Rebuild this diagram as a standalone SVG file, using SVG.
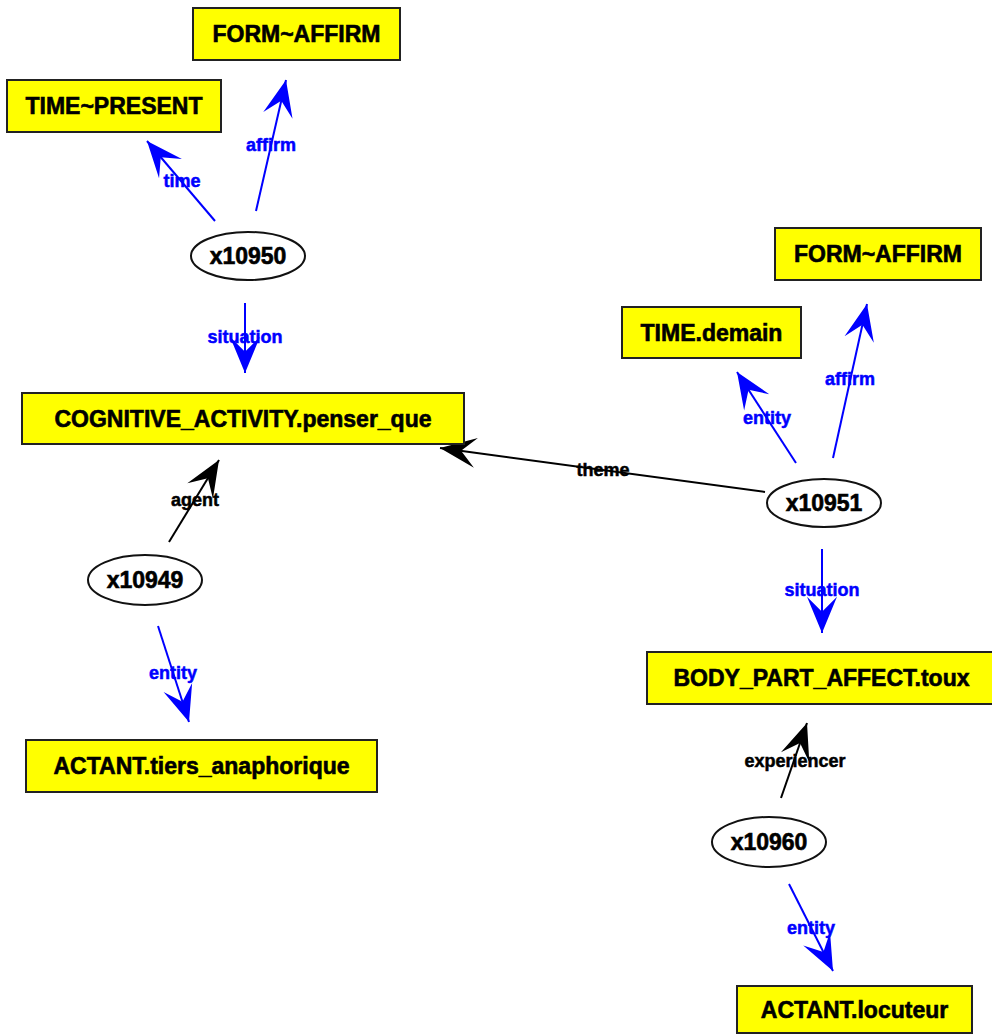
<svg xmlns="http://www.w3.org/2000/svg" width="992" height="1034" viewBox="0 0 992 1034">
<style>
.box{fill:#ffff00;stroke:#222;stroke-width:2}
.ell{fill:#fff;stroke:#111;stroke-width:2}
.nt{font-family:"Liberation Sans",Arial,sans-serif;font-weight:bold;font-size:23px;fill:#000;stroke:#000;stroke-width:0.6;text-anchor:middle;dominant-baseline:central}
.el{font-family:"Liberation Sans",Arial,sans-serif;font-weight:bold;font-size:18px;stroke-width:0.5;text-anchor:middle;dominant-baseline:central}
.blue{stroke:#0000ff;stroke-width:2;fill:none}
.black{stroke:#000;stroke-width:2;fill:none}
.bt{fill:#0000ff;stroke:#0000ff}
.kt{fill:#000;stroke:#000}
</style>
<defs>
<marker id="ab" markerUnits="userSpaceOnUse" orient="auto" markerWidth="40" markerHeight="40" refX="0" refY="0" viewBox="-30 -15 32 30" overflow="visible">
<path d="M0,0 L-29,-12 L-17,0 L-29,12 Z" fill="#0000ff"/>
</marker>
<marker id="ak" markerUnits="userSpaceOnUse" orient="auto" markerWidth="40" markerHeight="40" refX="0" refY="0" viewBox="-30 -15 32 30" overflow="visible">
<path d="M0,0 L-29,-12 L-17,0 L-29,12 Z" fill="#000"/>
</marker>
</defs>
<g id="connectors">
<line class="blue" x1="215" y1="221" x2="147" y2="141" marker-end="url(#ab)"/>
<line class="blue" x1="256" y1="211" x2="286" y2="80" marker-end="url(#ab)"/>
<line class="blue" x1="245" y1="303" x2="245" y2="373" marker-end="url(#ab)"/>
<line class="black" x1="169" y1="542" x2="219" y2="460" marker-end="url(#ak)"/>
<line class="blue" x1="158" y1="626" x2="189" y2="722" marker-end="url(#ab)"/>
<line class="black" x1="765" y1="492" x2="440" y2="448" marker-end="url(#ak)"/>
<line class="blue" x1="796" y1="463" x2="737" y2="372" marker-end="url(#ab)"/>
<line class="blue" x1="833" y1="458" x2="867" y2="304" marker-end="url(#ab)"/>
<line class="blue" x1="822" y1="549" x2="822" y2="633" marker-end="url(#ab)"/>
<line class="black" x1="781" y1="798" x2="807" y2="723" marker-end="url(#ak)"/>
<line class="blue" x1="789" y1="884" x2="833" y2="971" marker-end="url(#ab)"/>
<text class="el bt" x="182" y="181">time</text>
<text class="el bt" x="271" y="145">affirm</text>
<text class="el bt" x="245" y="337">situation</text>
<text class="el kt" x="195" y="500">agent</text>
<text class="el bt" x="173" y="673">entity</text>
<text class="el kt" x="603" y="470">theme</text>
<text class="el bt" x="767" y="418">entity</text>
<text class="el bt" x="850" y="379">affirm</text>
<text class="el bt" x="822" y="590">situation</text>
<text class="el kt" x="795" y="761">experiencer</text>
<text class="el bt" x="811" y="928">entity</text>
</g>
<g id="n_form1"><rect class="box" x="193" y="8" width="207" height="52"/><text class="nt" x="296.5" y="34">FORM~AFFIRM</text></g>
<g id="n_time1"><rect class="box" x="7" y="80" width="214" height="52"/><text class="nt" x="114" y="106">TIME~PRESENT</text></g>
<g id="n_x10950"><ellipse class="ell" cx="248" cy="256" rx="57" ry="24"/><text class="nt" x="248" y="256">x10950</text></g>
<g id="n_cog"><rect class="box" x="22" y="393" width="442" height="51"/><text class="nt" x="243" y="418.5">COGNITIVE_ACTIVITY.penser_que</text></g>
<g id="n_x10949"><ellipse class="ell" cx="145" cy="580" rx="57" ry="25"/><text class="nt" x="145" y="580">x10949</text></g>
<g id="n_tiers"><rect class="box" x="26" y="740" width="351" height="52"/><text class="nt" x="201.5" y="766">ACTANT.tiers_anaphorique</text></g>
<g id="n_form2"><rect class="box" x="775" y="228" width="206" height="52"/><text class="nt" x="878" y="254">FORM~AFFIRM</text></g>
<g id="n_demain"><rect class="box" x="622" y="307" width="179" height="51"/><text class="nt" x="711.5" y="332.5">TIME.demain</text></g>
<g id="n_x10951"><ellipse class="ell" cx="824" cy="503" rx="57" ry="24"/><text class="nt" x="824" y="503">x10951</text></g>
<g id="n_body"><rect class="box" x="647" y="652" width="349" height="52"/><text class="nt" x="821.5" y="678">BODY_PART_AFFECT.toux</text></g>
<g id="n_x10960"><ellipse class="ell" cx="769" cy="842" rx="57" ry="25"/><text class="nt" x="769" y="842">x10960</text></g>
<g id="n_locuteur"><rect class="box" x="737" y="986" width="235" height="47"/><text class="nt" x="854.5" y="1010">ACTANT.locuteur</text></g>
</svg>
